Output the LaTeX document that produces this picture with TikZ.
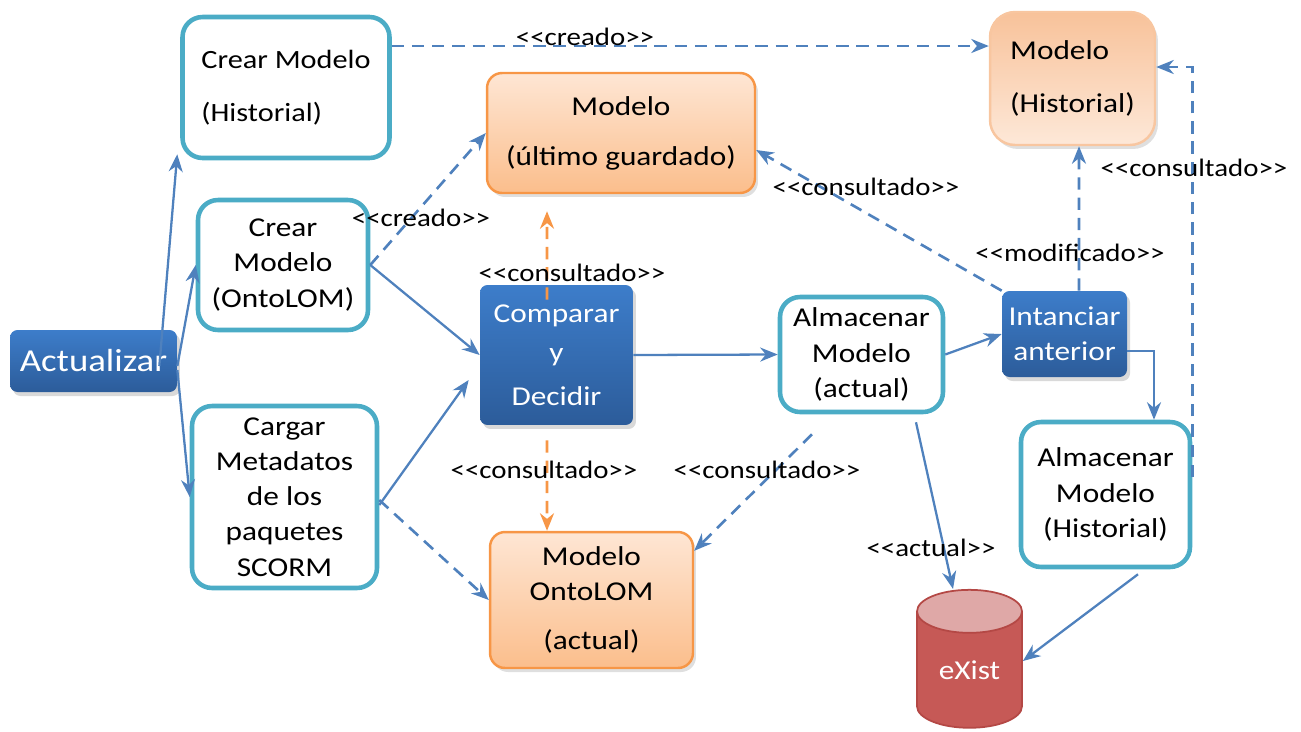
\documentclass[tikz,border=0pt]{standalone}
\usepackage{fontspec}
\setmainfont{Carlito}[FakeStretch=1.15,Ligatures=TeXOff]
\usetikzlibrary{arrows.meta,shapes.geometric,shadows}

\definecolor{lineblue}{HTML}{4F81BD}
\definecolor{lineorange}{HTML}{F79646}
\definecolor{tealborder}{HTML}{4BACC6}
\definecolor{modelborder}{HTML}{F79646}
\definecolor{peachtop}{HTML}{FEE6D4}
\definecolor{peachbottom}{HTML}{FBBE8C}
\definecolor{softborder}{HTML}{F8C6A0}
\definecolor{softtop}{HTML}{F8C29A}
\definecolor{softbottom}{HTML}{FDE8D8}
\definecolor{bluetop}{HTML}{3D7DCA}
\definecolor{bluebottom}{HTML}{2C5C9A}
\definecolor{dbend}{HTML}{DFA8A7}
\definecolor{dbbody}{HTML}{C65956}
\definecolor{dbborder}{HTML}{B44845}

\tikzset{base box/.style={inner sep=0pt,align=center,font=\fontsize{15.5pt}{20pt}\selectfont},
task/.style={base box,draw=tealborder,line width=2.6pt,rounded corners=0.4cm,fill=white},
model/.style={base box,draw=modelborder,line width=1.4pt,rounded corners=0.3cm,top color=peachtop,bottom color=peachbottom,drop shadow={opacity=0.25,shadow xshift=0.06cm,shadow yshift=-0.08cm}},
soft model/.style={model,draw=softborder,rounded corners=0.5cm,top color=softtop,bottom color=softbottom},
action/.style={base box,rounded corners=0.15cm,top color=bluetop,bottom color=bluebottom,text=white,drop shadow={opacity=0.3,shadow xshift=0.06cm,shadow yshift=-0.08cm}},
store/.style={base box,cylinder,shape border rotate=90,aspect=0.7,draw=dbborder,line width=1pt,cylinder uses custom fill,cylinder body fill=dbbody,cylinder end fill=dbend,text=white},
rel label/.style={font=\fontsize{14.3pt}{17pt}\selectfont,inner sep=0pt},
flow/.style={draw=lineblue,line width=1.3pt,-{Stealth[length=10pt,width=8pt]}},
refers/.style={flow,line width=1.5pt,dash pattern=on 7pt off 4.5pt},
checks/.style={refers,draw=lineorange}}

\begin{document}
\begin{tikzpicture}[x=0.02cm,y=-0.02cm]
\useasboundingbox (0,0) rectangle (1301,731);

%% Coordinates of nodes.
\coordinate (pAct) at (93.5,361);
\coordinate (pCrHist) at (286,87.5);
\coordinate (pCrOnto) at (283,265);
\coordinate (pCargar) at (284.5,497);
\coordinate (pUltimo) at (621,133);
\coordinate (pComparar) at (556.5,355);
\coordinate (pAlmAct) at (861.5,354.5);
\coordinate (pInstanc) at (1064.5,334);
\coordinate (pHistMod) at (1072.5,78.5);
\coordinate (pAlmHist) at (1105.5,494.5);
\coordinate (pOntoAct) at (591.5,600);
\coordinate (pExist) at (969.5,670);

%% boxes
\node [action,minimum width=3.34cm,minimum height=1.24cm,font=\fontsize{18.2pt}{22pt}\selectfont] (act) at (pAct) {Actualizar};
\node [task,minimum width=4.14cm,minimum height=2.82cm,align=left,font=\fontsize{15pt}{20pt}\selectfont] (crHist) at (pCrHist) {Crear Modelo\\[10pt](Historial)};
\node [task,minimum width=3.4cm,minimum height=2.6cm] (crOnto) at (pCrOnto) {Crear\\Modelo\\(OntoLOM)};
\node [task,minimum width=3.7cm,minimum height=3.64cm] (cargar) at (pCargar) {Cargar\\Metadatos\\de los\\paquetes\\SCORM};
\node [model,minimum width=5.36cm,minimum height=2.4cm] (ultimo) at (pUltimo) {Modelo\\[8.5pt](último guardado)};
\node [action,minimum width=3.06cm,minimum height=2.8cm] (comparar) at (pComparar) {Comparar\\[2pt]y\\[5pt]Decidir};
\node [task,minimum width=3.26cm,minimum height=2.3cm] (almAct) at (pAlmAct) {Almacenar\\Modelo\\(actual)};
\node [action,minimum width=2.5cm,minimum height=1.72cm] (instanc) at (pInstanc) {Intanciar\\anterior};
\node [soft model,minimum width=3.3cm,minimum height=2.66cm,align=left] (histMod) at (pHistMod) {Modelo\\[10.5pt](Historial)};
\node [task,minimum width=3.38cm,minimum height=2.9cm] (almHist) at (pAlmHist) {Almacenar\\Modelo\\(Historial)};
\node [model,minimum width=4.06cm,minimum height=2.72cm] (ontoAct) at (pOntoAct) {Modelo\\OntoLOM\\[8pt](actual)};
\node [store,minimum width=2.1cm,minimum height=2.76cm] (exist) at (pExist) {eXist};

%% solid connectors
\draw [flow] ([xshift=-0.36cm,yshift=-0.1cm]act.east) -- ([xshift=-0.06cm,yshift=0.12cm]crHist.south west);
\draw [flow] ([yshift=-0.1cm]act.east) -- (crOnto.west);
\draw [flow] ([yshift=-0.18cm]act.east) -- (cargar.west);
\draw [flow] (crOnto.east) -- (comparar.west);
\draw [flow] ([yshift=-0.16cm]cargar.east) -- ([xshift=-0.22cm,yshift=-0.5cm]comparar.west);
\draw [flow] (comparar.east) -- (almAct.west);
\draw [flow] (almAct.east) -- (instanc.west);
\draw [flow] ([yshift=-0.34cm]instanc.east) -| ([xshift=0.97cm]almHist.north);
\draw [flow] ([xshift=1.09cm,yshift=-0.16cm]almAct.south) -- ([xshift=-0.33cm]exist.north);
\draw [flow] ([xshift=0.65cm,yshift=-0.1cm]almHist.south) -- ([yshift=0.18cm]exist.east);

%% dashed connectors
\draw [refers] ([yshift=0.83cm]crHist.east) -- ([yshift=0.83cm]crHist.east -| histMod.west);
\draw [refers] (crOnto.east) -- (ultimo.west);
\draw [refers] ([yshift=-0.06cm]cargar.east) -- (ontoAct.west);
\draw [refers] (instanc.north west) -- ([yshift=-0.34cm]ultimo.east);
\draw [refers] ([xshift=0.29cm]instanc.north) -- ([xshift=0.13cm]histMod.south);
\draw [refers] ([yshift=0.35cm]almHist.east) |- ([yshift=0.23cm]histMod.east);
\draw [refers] ([xshift=-0.99cm,yshift=-0.4cm]almAct.south) -- ([yshift=-0.4cm]ontoAct.north east);
\draw [checks] ([xshift=-0.19cm,yshift=-0.3cm]comparar.north) -- ([xshift=-1.48cm,yshift=-0.34cm]ultimo.south);
\draw [checks] ([xshift=-0.19cm,yshift=-0.3cm]comparar.south) -- ([xshift=-0.89cm]ontoAct.north);

%% relation labels
\node [rel label] (lCreadoTop) at (585,37) {<<creado>>};
\node [rel label] (lCreado) at (421,218) {<<creado>>};
\node [rel label] (lConsUltimo) at (572,273) {<<consultado>>};
\node [rel label] (lConsInst) at (866,187) {<<consultado>>};
\node [rel label] (lConsHist) at (1194,168) {<<consultado>>};
\node [rel label] (lModif) at (1070,253) {<<modificado>>};
\node [rel label] (lConsOnto) at (544,470) {<<consultado>>};
\node [rel label] (lConsAlm) at (767,470) {<<consultado>>};
\node [rel label] (lActual) at (931,548) {<<actual>>};

\end{tikzpicture}
\end{document}
